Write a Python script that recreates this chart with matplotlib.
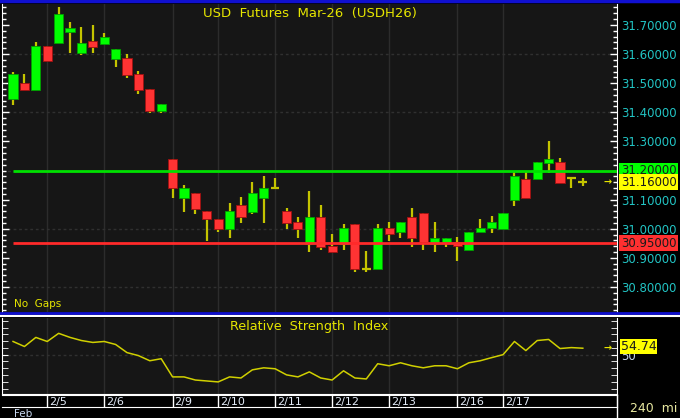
import matplotlib
matplotlib.use("Agg")
import matplotlib.pyplot as plt
import matplotlib.transforms as mtransforms
from matplotlib.ticker import MultipleLocator, FixedLocator
import numpy as np

# 240 min bars, USDH26
opens = [31.446, 31.501, 31.477, 31.628, 31.638, 31.676, 31.604, 31.645, 31.635, 31.583,
         31.587, 31.532, 31.480, 31.404, 31.240, 31.105, 31.123, 31.061, 31.033, 30.999,
         31.081, 31.057, 31.105, 31.140, 31.061, 31.023, 30.947, 31.040, 30.940, 30.947,
         31.016, 30.862, 30.862, 31.002, 30.989, 31.040, 31.054, 30.947, 30.954, 30.954,
         30.927, 30.989, 31.002, 30.999, 31.099, 31.171, 31.171, 31.226, 31.229, 31.174,
         31.160]
highs = [31.538, 31.532, 31.642, 31.628, 31.762, 31.710, 31.693, 31.700, 31.672, 31.618,
         31.600, 31.542, 31.480, 31.428, 31.240, 31.150, 31.123, 31.061, 31.033, 31.088,
         31.109, 31.160, 31.181, 31.174, 31.071, 31.040, 31.130, 31.081, 30.982, 31.016,
         31.016, 30.923, 31.016, 31.023, 31.023, 31.071, 31.054, 31.023, 30.968, 30.972,
         30.989, 31.033, 31.044, 31.054, 31.195, 31.198, 31.229, 31.300, 31.243, 31.178,
         31.174]
lows = [31.425, 31.477, 31.477, 31.576, 31.638, 31.604, 31.597, 31.604, 31.635, 31.556,
        31.518, 31.463, 31.398, 31.398, 31.105, 31.057, 31.050, 30.958, 30.989, 30.968,
        31.020, 31.050, 31.020, 31.140, 30.999, 30.968, 30.920, 30.927, 30.920, 30.927,
        30.851, 30.851, 30.862, 30.958, 30.968, 30.937, 30.927, 30.920, 30.937, 30.889,
        30.927, 30.989, 30.985, 30.999, 31.078, 31.105, 31.171, 31.191, 31.157, 31.140,
        31.147]
closes = [31.532, 31.477, 31.628, 31.576, 31.738, 31.690, 31.638, 31.624, 31.659, 31.618,
          31.528, 31.477, 31.404, 31.428, 31.140, 31.140, 31.068, 31.033, 30.999, 31.061,
          31.040, 31.123, 31.140, 31.140, 31.020, 30.999, 31.040, 30.937, 30.920, 31.002,
          30.862, 30.862, 31.002, 30.982, 31.023, 30.968, 30.954, 30.968, 30.968, 30.940,
          30.989, 31.002, 31.023, 31.054, 31.181, 31.105, 31.229, 31.240, 31.157, 31.174,
          31.160]
rsi = [59.7, 56.0, 62.7, 59.7, 65.7, 62.7, 60.4, 59.0, 59.7, 57.5,
       51.5, 49.3, 45.5, 47.0, 33.6, 33.6, 31.3, 30.6, 29.9, 33.6,
       32.8, 38.8, 40.3, 39.6, 35.1, 33.6, 37.3, 32.8, 31.3, 38.1,
       32.8, 32.1, 43.3, 41.8, 44.0, 41.8, 40.3, 41.8, 41.8, 39.6,
       44.0, 45.5, 47.8, 50.0, 59.7, 53.0, 60.4, 61.2, 54.5, 55.2,
       54.74]
day_index = [3, 8, 14, 18, 23, 28, 33, 39, 43]
day_labels = ["2/5", "2/6", "2/9", "2/10", "2/11", "2/12", "2/13", "2/16", "2/17"]
resistance = 31.20
support = 30.95
last_price = 31.16
last_rsi = 54.74

W, H = 680, 418
BG = "#161616"
UP = "#00ff00"
DOWN = "#ff3333"
WICK = "#c4c400"
YEL = "#e6e600"
CYAN = "#22c4c4"

fig = plt.figure(figsize=(W / 100, H / 100), dpi=100, facecolor="black")


def box(l, t, r, b):
    return [l / W, 1 - b / H, (r - l) / W, (b - t) / H]


ax = fig.add_axes(box(2, 4, 617, 312))
ax_rsi = fig.add_axes(box(2, 318, 617, 394))
ax_d = fig.add_axes(box(2, 395, 617, 407))

x = np.arange(len(closes))
xlim = (-0.97, 53.0)

for a in (ax, ax_rsi):
    a.set_facecolor(BG)
    a.set_xlim(*xlim)
    for s in a.spines.values():
        s.set_visible(False)
    a.spines["left"].set_visible(True)
    a.spines["right"].set_visible(True)
    a.spines["left"].set_color("white")
    a.spines["right"].set_color("white")
    a.set_xticks([])
    for d in day_index:
        a.axvline(d, color="#2c2c2c", lw=1, zorder=0)

# price panel
ax.set_ylim(30.714, 31.772)
for lvl in [31.6, 31.4, 31.2, 31.0, 30.8]:
    ax.axhline(lvl, color="#303030", lw=1, ls=(0, (2, 2)), zorder=0)

for i in x:
    o, h, l, c = opens[i], highs[i], lows[i], closes[i]
    ax.vlines(i, l, h, color=WICK, lw=1.6, zorder=2)
    if abs(c - o) < 1e-6:
        ax.hlines(o, i - 0.38, i + 0.38, color=WICK, lw=1.6, zorder=3)
    else:
        col = UP if c > o else DOWN
        edge = "#00a000" if c > o else "#a01010"
        ax.bar(i, abs(c - o), 0.8, bottom=min(o, c), color=col,
               edgecolor=edge, lw=0.6, zorder=3)

ax.hlines(resistance, 0, xlim[1], color="#00e000", lw=2, zorder=4)
ax.hlines(support, 0, xlim[1], color="#ff2a2a", lw=2, zorder=4)

ax.yaxis.set_major_locator(FixedLocator([31.7, 31.6, 31.5, 31.4, 31.3, 31.1, 31.0, 30.9, 30.8]))
ax.yaxis.set_minor_locator(MultipleLocator(0.02))
ax.yaxis.set_major_formatter(lambda v, p: f"{v:.5f}")
ax.tick_params(axis="y", which="both", left=True, right=True, direction="in",
               colors="white", labelleft=False, labelright=True, labelcolor=CYAN,
               labelsize=8.5, pad=3)
ax.tick_params(axis="y", which="major", length=5, width=1)
ax.tick_params(axis="y", which="minor", length=3, width=1)

tr = mtransforms.blended_transform_factory(ax.transAxes, ax.transData)
for val, fc in [(resistance, "#00ff00"), (last_price, "#ffff00"), (support, "#ff3030")]:
    ax.text(1.006, val, f"{val:.5f}", transform=tr, ha="left", va="center",
            fontsize=8.5, color="#1a1a1a", clip_on=False,
            bbox=dict(boxstyle="square,pad=0.12", fc=fc, ec="none"))
ax.text(0.9845, last_price, "\u2192", transform=tr, ha="center", va="center",
        fontsize=7, color=YEL, fontweight="bold")

ax.text(0.5, 0.99, "USD  Futures  Mar-26  (USDH26)", transform=ax.transAxes,
        ha="center", va="top", fontsize=9.5, color=YEL)
ax.text(0.02, 0.01, "No  Gaps", transform=ax.transAxes, ha="left", va="bottom",
        fontsize=7.5, color=YEL)

# RSI panel
ax_rsi.set_ylim(21, 77)
ax_rsi.axhline(50, color="#303030", lw=1, ls=(0, (2, 2)), zorder=0)
ax_rsi.plot(x, rsi, color="#d0d000", lw=1.1)
ax_rsi.yaxis.set_major_locator(FixedLocator([50]))
ax_rsi.yaxis.set_minor_locator(MultipleLocator(5))
ax_rsi.tick_params(axis="y", which="both", left=True, right=True, direction="in",
                   colors="white", labelleft=False, labelright=True, labelcolor="#c8d8f0",
                   labelsize=8.5, pad=3, length=4)
trr = mtransforms.blended_transform_factory(ax_rsi.transAxes, ax_rsi.transData)
ax_rsi.text(1.006, last_rsi + 1.5, f"{last_rsi:.2f}", transform=trr, ha="left", va="center",
            fontsize=9, color="#1a1a1a", clip_on=False,
            bbox=dict(boxstyle="square,pad=0.08", fc="#ffff00", ec="none"))
ax_rsi.text(0.9845, last_rsi, "\u2192", transform=trr, ha="center", va="center",
            fontsize=7, color=YEL, fontweight="bold")
ax_rsi.text(0.5, 0.97, "Relative  Strength  Index", transform=ax_rsi.transAxes,
            ha="center", va="top", fontsize=9.2, color=YEL)
ax_rsi.spines["bottom"].set_visible(True)
ax_rsi.spines["bottom"].set_color("white")

# date row
ax_d.set_facecolor("black")
ax_d.set_xlim(*xlim)
ax_d.set_ylim(0, 1)
ax_d.set_xticks([])
ax_d.set_yticks([])
for s in ax_d.spines.values():
    s.set_color("white")
ax_d.spines["left"].set_visible(False)
for d, lab in zip(day_index, day_labels):
    ax_d.axvline(d, color="white", lw=1)
    ax_d.text(d + 0.15, 0.45, lab, ha="left", va="center", fontsize=8, color="#e4ecf8")

fig.text(14 / W, 1 - 414 / H, "Feb", ha="left", va="center", fontsize=7.5, color="#c8d8f0")
fig.text(630 / W, 1 - 408 / H, "240  mi", ha="left", va="center", fontsize=9, color="#e8e8a0")

# blue separators
fig.add_artist(plt.Line2D([0, 1], [1 - 1 / H, 1 - 1 / H], color="#1010d0", lw=2.5))
fig.add_artist(plt.Line2D([0, 1], [1 - 313 / H, 1 - 313 / H], color="#1010d0", lw=2))
fig.add_artist(plt.Line2D([0, 1], [1 - 315.5 / H, 1 - 315.5 / H], color="white", lw=1.5))
fig.add_artist(plt.Line2D([617 / W, 617 / W], [0, 1 - 395 / H], color="white", lw=1))

fig.savefig("out.png", dpi=100, facecolor="black")
